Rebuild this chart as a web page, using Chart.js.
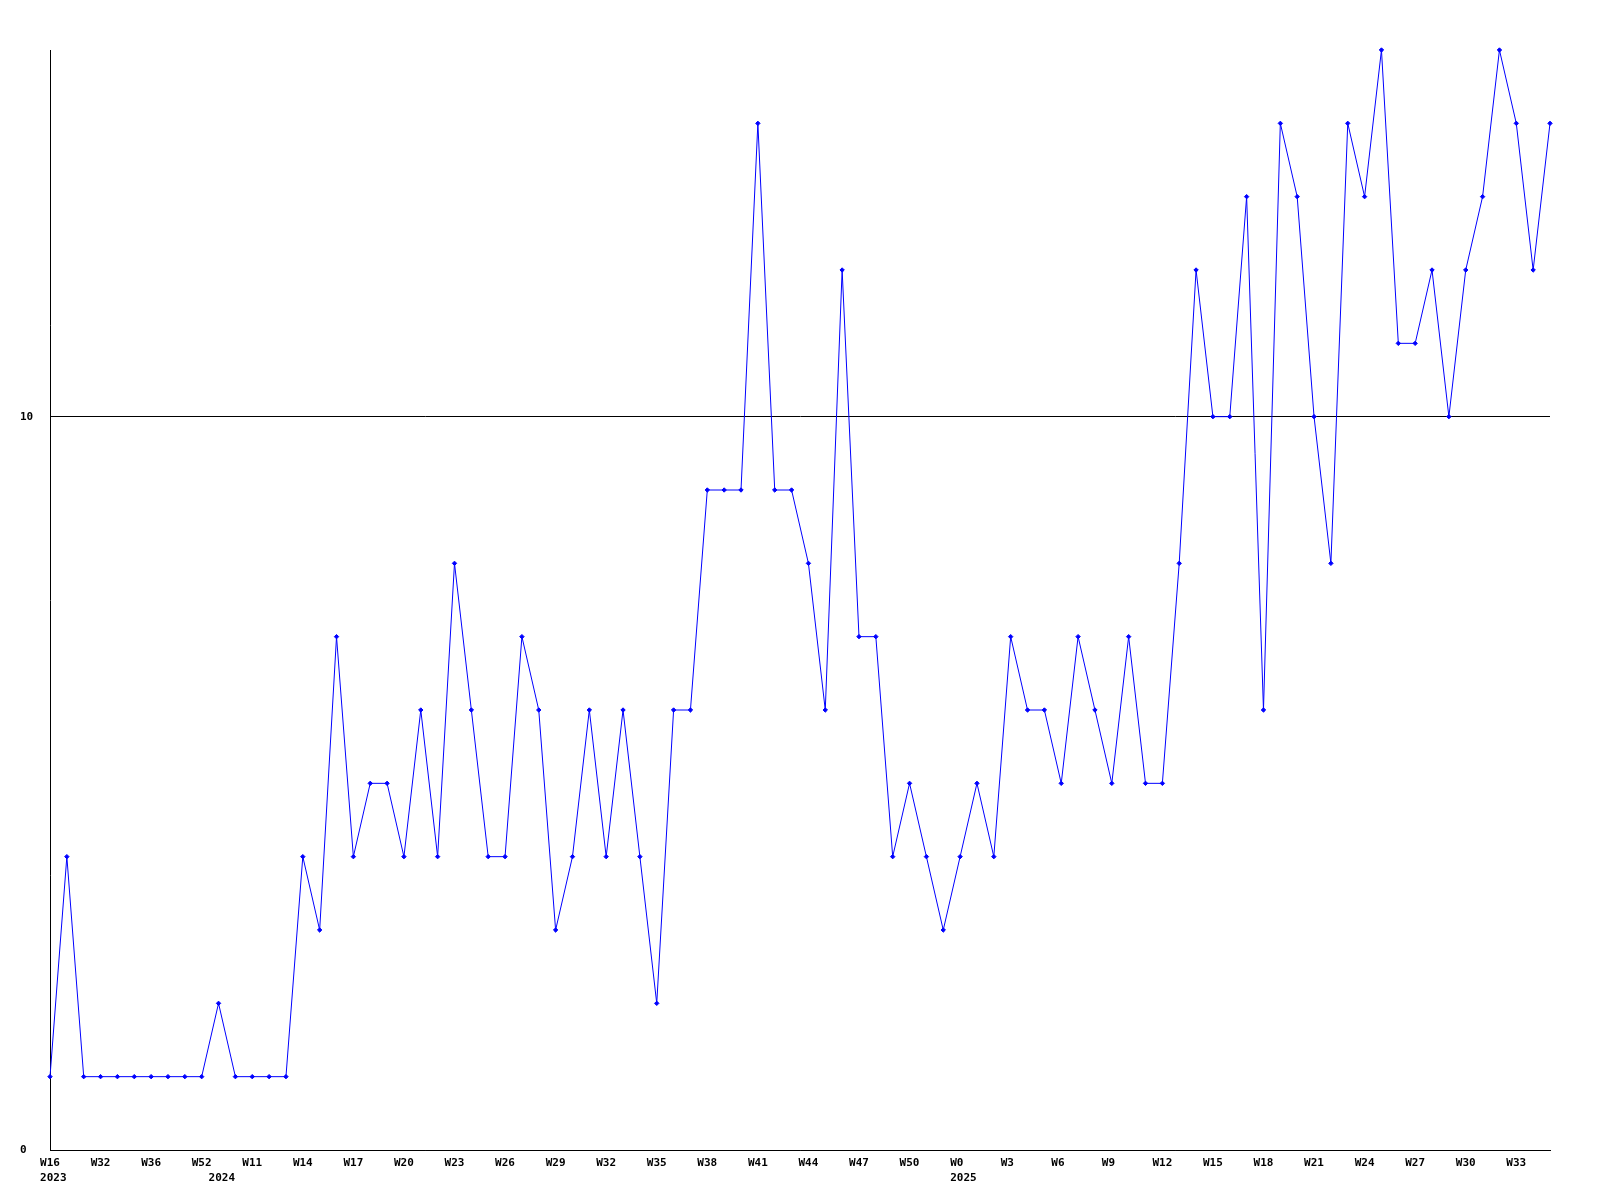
<!DOCTYPE html>
<html>
<head>
<meta charset="utf-8">
<script src="https://cdn.jsdelivr.net/npm/chart.js@4/dist/chart.umd.min.js"></script>
<style>
  html, body { margin: 0; padding: 0; background: #ffffff; }
  #wrap { width: 1600px; height: 1200px; }
</style>
</head>
<body>
<div id="wrap"><canvas id="weeklyChart" width="1600" height="1200"></canvas></div>
<script>
// Week label shown under every third point; '' means no label
const weekLabels = [
    'W16', '', '', 'W32', '', '', 'W36', '', '', 'W52',
    '', '', 'W11', '', '', 'W14', '', '', 'W17', '',
    '', 'W20', '', '', 'W23', '', '', 'W26', '', '',
    'W29', '', '', 'W32', '', '', 'W35', '', '', 'W38',
    '', '', 'W41', '', '', 'W44', '', '', 'W47', '',
    '', 'W50', '', '', 'W0 ', '', '', 'W3 ', '', '',
    'W6 ', '', '', 'W9 ', '', '', 'W12', '', '', 'W15',
    '', '', 'W18', '', '', 'W21', '', '', 'W24', '',
    '', 'W27', '', '', 'W30', '', '', 'W33', '', ''
];

// Year marker under the point where a new year starts
// (leading space keeps it lined up with the week label's left edge)
const yearLabels = {0: ' 2023', 10: ' 2024', 54: ' 2025'};

const counts = [
    1, 4, 1, 1, 1, 1, 1, 1, 1, 1,
    2, 1, 1, 1, 1, 4, 3, 7, 4, 5,
    5, 4, 6, 4, 8, 6, 4, 4, 7, 6,
    3, 4, 6, 4, 6, 4, 2, 6, 6, 9,
    9, 9, 14, 9, 9, 8, 6, 12, 7, 7,
    4, 5, 4, 3, 4, 5, 4, 7, 6, 6,
    5, 7, 6, 5, 7, 5, 5, 8, 12, 10,
    10, 13, 6, 14, 13, 10, 8, 14, 13, 15,
    11, 11, 12, 10, 12, 13, 15, 14, 12, 14
];

const yTicks = [0, 10];

const monoFont = { family: "'DejaVu Sans Mono', monospace", size: 11, weight: 'bold', lineHeight: 1.4 };

const labels = weekLabels.map((w, i) => yearLabels[i] ? [w, yearLabels[i]] : w);

new Chart(document.getElementById('weeklyChart'), {
    type: 'line',
    data: {
        labels: labels,
        datasets: [{
            data: counts,
            borderColor: '#0000ff',
            backgroundColor: '#0000ff',
            borderWidth: 1,
            tension: 0,
            fill: false,
            clip: false,
            pointStyle: 'rectRot',
            pointRadius: 2.2,
            pointBorderWidth: 1,
            pointHoverRadius: 2.2
        }]
    },
    options: {
        responsive: false,
        animation: false,
        layout: {
            padding: { left: 20, top: 50, right: 50, bottom: 0 }
        },
        plugins: {
            legend: { display: false },
            tooltip: { enabled: false }
        },
        scales: {
            x: {
                type: 'category',
                offset: false,
                grid: { display: false, drawTicks: false },
                border: { color: '#000000', width: 1 },
                ticks: {
                    autoSkip: false,
                    maxRotation: 0,
                    color: '#000000',
                    font: monoFont,
                    padding: 5,
                    callback: function (value, index) {
                        return labels[index];
                    }
                },
                afterFit: function (scale) { scale.height = 50; }
            },
            y: {
                min: 0,
                max: 15,
                afterBuildTicks: function (scale) {
                    scale.ticks = yTicks.map(v => ({ value: v }));
                },
                grid: {
                    color: '#000000',
                    lineWidth: 1,
                    drawTicks: false
                },
                border: { color: '#000000', width: 1 },
                ticks: {
                    color: '#000000',
                    font: { family: "'DejaVu Sans Mono', monospace", size: 11, weight: 'bold' },
                    crossAlign: 'far',
                    padding: 0
                },
                afterFit: function (scale) { scale.width = 30; }
            }
        }
    }
});
</script>
</body>
</html>
